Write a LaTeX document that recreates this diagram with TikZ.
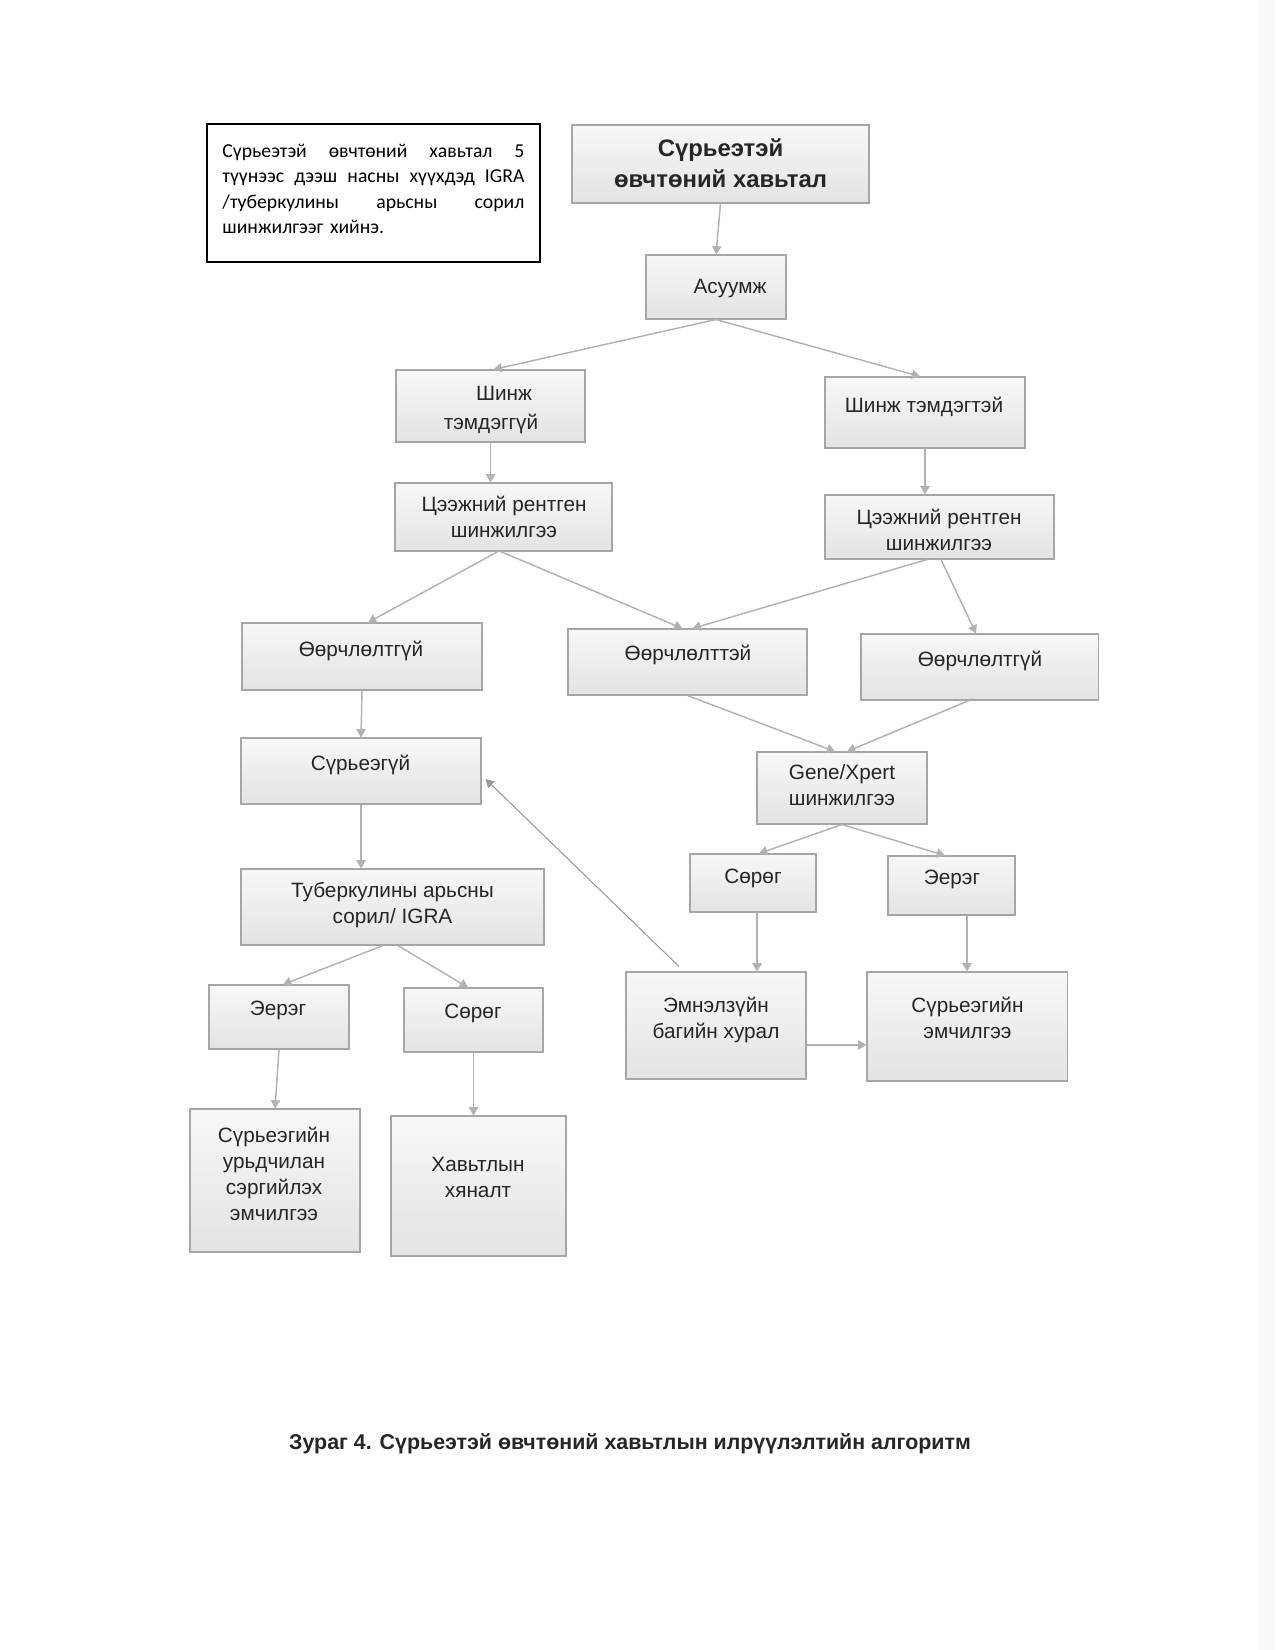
\documentclass[tikz,border=0pt]{standalone}
\usepackage{fontspec}
\setmainfont{Liberation Sans}
\newfontfamily\notefont{Carlito}
\usetikzlibrary{arrows.meta,calc,shadows}
\newdimen\pxu \pxu=0.4818pt
\begin{document}
\begin{tikzpicture}[x=0.4818pt,y=-0.4818pt,
  box/.style={draw=gray!70, line width=0.5pt, top color=gray!6, bottom color=gray!22, inner sep=0pt,
    drop shadow={shadow xshift=0.7pt, shadow yshift=-0.7pt, opacity=0.35}},
  txt/.style={align=center, inner sep=0pt, font=\fontsize{10}{12.5}\selectfont, text=black!85},
  ttl/.style={align=center, inner sep=0pt, font=\bfseries\fontsize{11.5}{15}\selectfont, text=black!85},
  arr/.style={draw=gray!60, line width=0.7pt, -{Triangle[width=4.5pt,length=4pt]}},
]
\fill[white] (0,0) rectangle (1275,1650);
\fill[gray!5] (1258,0) rectangle (1275,1650);
\useasboundingbox (0,0) rectangle (1275,1650);

% note
\node[draw=black, line width=0.9pt, minimum width=333\pxu, minimum height=138\pxu, inner sep=0pt] (note) at (373.5,193) {};
\node[anchor=north west, inner sep=0pt, text width=145.5pt, align=left,
      font=\notefont\fontsize{9.5}{12.3}\selectfont] (note-t) at (222,143.5)
  {\makebox[145.5pt][l]{Сүрьеэтэй\hfill өвчтөний\hfill хавьтал\hfill 5}\\
   \makebox[145.5pt][l]{түүнээс\hfill дээш\hfill насны\hfill хүүхдэд\hfill IGRA}\\
   \makebox[145.5pt][l]{/туберкулины\hfill арьсны\hfill сорил}\\
   шинжилгээг хийнэ.};

% boxes
\node[box, minimum width=297\pxu, minimum height=78\pxu] (top) at (720.5,164) {};
\node[ttl] (top-t) at (720.5,163) {Сүрьеэтэй\\өвчтөний хавьтал};

\node[box, minimum width=140\pxu, minimum height=64\pxu] (ask) at (716,287) {};
\node[txt] (ask-t) at (730,288.5) {Асуумж};

\node[box, minimum width=189\pxu, minimum height=72\pxu] (shg) at (490.5,406) {};
\node[txt, font=\fontsize{10}{14}\selectfont] (shg-t) at (491,410) {\hspace*{26\pxu}Шинж\\тэмдэггүй};

\node[box, minimum width=200\pxu, minimum height=71\pxu] (sht) at (925,412.5) {};
\node[txt] (sht-t) at (924,406.5) {Шинж тэмдэгтэй};

\node[box, minimum width=217\pxu, minimum height=68\pxu] (xrL) at (503.5,517) {};
\node[txt] (xrL-t) at (504,517) {Цээжний рентген\\шинжилгээ};

\node[box, minimum width=229\pxu, minimum height=64\pxu] (xrR) at (939.5,527) {};
\node[txt] (xrR-t) at (939,529.5) {Цээжний рентген\\шинжилгээ};

\node[box, minimum width=240\pxu, minimum height=67\pxu] (nochL) at (362,656.5) {};
\node[txt] (nochL-t) at (361,651) {Өөрчлөлтгүй};

\node[box, minimum width=239\pxu, minimum height=66\pxu] (chY) at (687.5,662) {};
\node[txt] (chY-t) at (688,655) {Өөрчлөлттэй};

\node[box, minimum width=237\pxu, minimum height=66\pxu] (nochR) at (979.5,667) {};
\node[txt] (nochR-t) at (980,661) {Өөрчлөлтгүй};

\node[box, minimum width=240\pxu, minimum height=66\pxu] (notb) at (361,771) {};
\node[txt] (notb-t) at (360.5,765) {Сүрьеэгүй};

\node[box, minimum width=170\pxu, minimum height=72\pxu] (gene) at (842,788) {};
\node[txt] (gene-t) at (842,785.5) {Gene/Xpert\\шинжилгээ};

\node[box, minimum width=126\pxu, minimum height=58\pxu] (negR) at (753,883) {};
\node[txt] (negR-t) at (753,878) {Сөрөг};

\node[box, minimum width=127\pxu, minimum height=59\pxu] (posR) at (951.5,885.5) {};
\node[txt] (posR-t) at (952,879) {Эерэг};

\node[box, minimum width=303\pxu, minimum height=76\pxu] (tub) at (392.5,907) {};
\node[txt] (tub-t) at (392.5,904.6) {Туберкулины арьсны\\сорил/ IGRA};

\node[box, minimum width=180\pxu, minimum height=107\pxu] (clin) at (716,1025.5) {};
\node[txt] (clin-t) at (716,1020) {Эмнэлзүйн\\багийн хурал};

\node[box, minimum width=200\pxu, minimum height=109\pxu] (trt) at (967,1026.5) {};
\node[txt] (trt-t) at (967.5,1017.5) {Сүрьеэгийн\\эмчилгээ};

\node[box, minimum width=140\pxu, minimum height=64\pxu] (posL) at (279,1017) {};
\node[txt] (posL-t) at (278,1010.5) {Эерэг};

\node[box, minimum width=139\pxu, minimum height=64\pxu] (negL) at (473.5,1020) {};
\node[txt] (negL-t) at (473,1013) {Сөрөг};

\node[box, minimum width=170\pxu, minimum height=143\pxu] (prev) at (275,1180.5) {};
\node[txt] (prev-t) at (274,1174) {Сүрьеэгийн\\урьдчилан\\сэргийлэх\\эмчилгээ};

\node[box, minimum width=175\pxu, minimum height=140\pxu] (mon) at (478.5,1186) {};
\node[txt] (mon-t) at (478,1177) {Хавьтлын\\хяналт};

% caption
\node[inner sep=0pt, font=\bfseries\fontsize{10.3}{12}\selectfont, text=black!85] (cap) at (630,1444)
  {Зураг 4. Сүрьеэтэй өвчтөний хавьтлын илрүүлэлтийн алгоритм};

% connectors
\draw[arr] (top.south) -- (ask.north);
\draw[arr] (ask.south) -- ($(shg.north)+(3,0)$);
\draw[arr] (ask.south) -- ($(sht.north)+(-5,0)$);
\draw[arr] (shg.south) -- (shg.south |- xrL.north);
\draw[arr] (sht.south) -- (sht.south |- xrR.north);
\draw[arr] ($(xrL.south)+(-5.5,0)$) -- ($(nochL.north)+(6,0)$);
\draw[arr] ($(xrL.south)+(-3,0)$) -- ($(chY.north)+(-5,0)$);
\draw[arr] ($(xrR.south)+(-12.5,0)$) -- ($(chY.north)+(5,0)$);
\draw[arr] ($(xrR.south)+(1.5,0)$) -- ($(nochR.north)+(-3.5,0)$);
\draw[arr] (nochL.south) -- (notb.north);
\draw[arr] (chY.south) -- ($(gene.north)+(-7,0)$);
\draw[arr] ($(nochR.south)+(-10.5,0)$) -- ($(gene.north)+(5,0)$);
\draw[arr] (gene.south) -- ($(negR.north)+(6,0)$);
\draw[arr] (gene.south) -- ($(posR.north)+(-6.5,0)$);
\coordinate (c14) at ($(negR.south)+(4,0)$);
\draw[arr] (c14) -- (c14 |- clin.north);
\draw[arr] (trt.north |- posR.south) -- (trt.north);
\coordinate (c16) at ($(clin.east)+(0,19.5)$);
\draw[arr] (c16) -- (c16 -| trt.west);
\draw[arr, draw=gray!80, line width=0.5pt] ($(clin.north)+(-37,-5)$) -- ($(notb.east)+(4,8)$);
\draw[arr] (notb.south) -- (notb.south |- tub.north);
\draw[arr] ($(tub.south)+(-9.5,0)$) -- ($(posL.north)+(4,0)$);
\draw[arr] ($(tub.south)+(5.5,0)$) -- ($(negL.north)+(-5.5,0)$);
\draw[arr] (posL.south) -- (prev.north);
\draw[arr] (negL.south) -- (negL.south |- mon.north);
\end{tikzpicture}
\end{document}
